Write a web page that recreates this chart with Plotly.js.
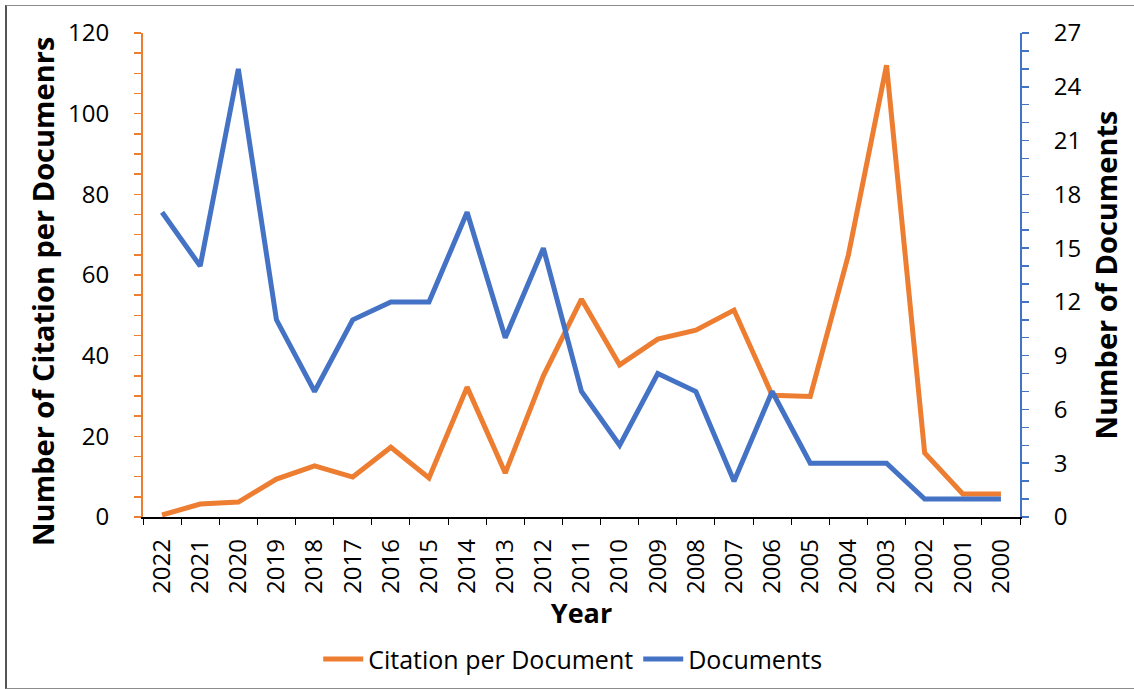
<!DOCTYPE html>
<html>
<head>
<meta charset="utf-8">
<script src="https://cdn.plot.ly/plotly-3.0.1.min.js"></script>
<style>
html,body{margin:0;padding:0;background:#fff;overflow:hidden;}
#wrap{position:relative;width:1134px;height:689px;overflow:hidden;}
#chart{width:1134px;height:689px;}
#frame{position:absolute;left:5px;top:5px;width:1150px;height:682px;border:1px solid #8c8c8c;border-left:2px solid #555;pointer-events:none;}
</style>
</head>
<body>
<div id="wrap"><div id="chart"></div><div id="frame"></div></div>
<script>
const years = ["2022","2021","2020","2019","2018","2017","2016","2015","2014","2013","2012","2011","2010","2009","2008","2007","2006","2005","2004","2003","2002","2001","2000"];
const citationPerDocument = [0.5,3.2,3.7,9.4,12.7,9.9,17.3,9.7,32.2,10.9,35,54,37.7,44.1,46.3,51.3,30.2,29.9,65,112,15.9,5.7,5.7];
const documents = [17,14,25,11,7,11,12,12,17,10,15,7,4,8,7,2,7,3,3,3,1,1,1];
const leftTitle = "Number of Citation per Documenrs";
const rightTitle = "Number of Documents";
const xTitle = "Year";

const FONT = "Open Sans, sans-serif";
const ORANGE = "#ED7D31";
const BLUE = "#4472C4";

const traces = [
  {x: years, y: citationPerDocument, name: "Citation per Document", type: "scatter", mode: "lines",
   line: {color: ORANGE, width: 5}, yaxis: "y"},
  {x: years, y: documents, name: "Documents", type: "scatter", mode: "lines",
   line: {color: BLUE, width: 5}, yaxis: "y2"}
];

const layout = {
  width: 1134, height: 689,
  margin: {l: 143, r: 114, t: 33, b: 172, autoexpand: false},
  paper_bgcolor: "#fff", plot_bgcolor: "#fff",
  font: {family: FONT, size: 24, color: "#000"},
  showlegend: true,
  legend: {orientation: "h", x: 0.49, xanchor: "center", y: -0.294, yanchor: "middle",
           font: {family: FONT, size: 25, color: "#000"}, itemwidth: 40, tracegroupgap: 0},
  annotations: [
    {text: leftTitle, xref: "paper", yref: "paper", x: -0.114, y: 0.465, xanchor: "center", yanchor: "middle",
     textangle: -90, showarrow: false, font: {family: FONT, size: 29, color: "#000", weight: "bold"}}
  ],
  xaxis: {
    type: "category", categoryorder: "array", categoryarray: years, range: [-0.5, years.length - 0.5],
    tickson: "boundaries", ticks: "outside", ticklen: 6, tickcolor: "#000", tickwidth: 1,
    showline: true, linecolor: "#000", linewidth: 1.5, showgrid: false, zeroline: false,
    tickangle: -90, tickfont: {family: FONT, size: 24, color: "#000"}, ticklabelstandoff: 11,
    title: {text: xTitle, font: {family: FONT, size: 27, color: "#000", weight: "bold"}, standoff: 6},
    automargin: false, fixedrange: true
  },
  yaxis: {
    range: [0, 120], dtick: 20, tick0: 0, ticks: "outside", ticklen: 7, tickcolor: ORANGE, tickwidth: 1.5,
    minor: {dtick: 5, ticks: "outside", ticklen: 7, tickcolor: ORANGE, tickwidth: 1.5, showgrid: false},
    showline: true, linecolor: ORANGE, linewidth: 2, showgrid: false, zeroline: false,
    tickfont: {family: FONT, size: 24, color: "#000"}, ticklabelstandoff: 20,
    automargin: false, fixedrange: true
  },
  yaxis2: {
    overlaying: "y", side: "right",
    range: [0, 27], dtick: 3, tick0: 0, ticks: "outside", ticklen: 7, tickcolor: BLUE, tickwidth: 1.5,
    minor: {dtick: 1, ticks: "outside", ticklen: 7, tickcolor: BLUE, tickwidth: 1.5, showgrid: false},
    showline: true, linecolor: BLUE, linewidth: 2, showgrid: false, zeroline: false,
    tickfont: {family: FONT, size: 24, color: "#000"}, ticklabelstandoff: 20,
    title: {text: rightTitle, font: {family: FONT, size: 29, color: "#000", weight: "bold"}, standoff: 16},
    automargin: false, fixedrange: true
  }
};

Plotly.newPlot("chart", traces, layout, {displayModeBar: false, staticPlot: true});
</script>
</body>
</html>
